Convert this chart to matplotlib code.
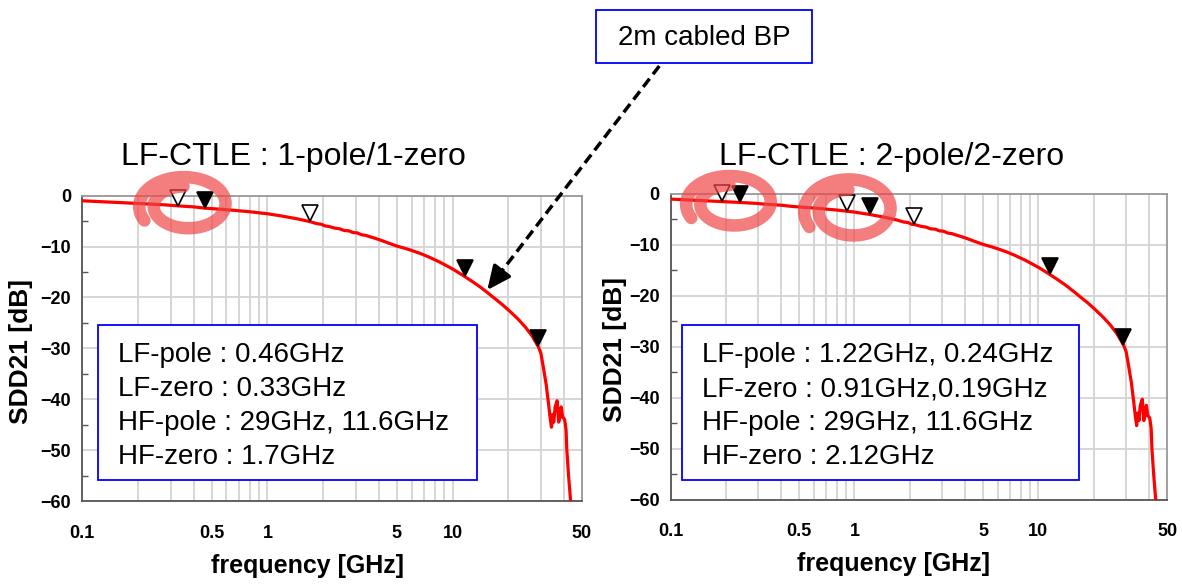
import numpy as np
import matplotlib
matplotlib.use("Agg")
import matplotlib.pyplot as plt
from matplotlib.patches import Rectangle, FancyArrowPatch, ArrowStyle
from matplotlib.lines import Line2D
from matplotlib.ticker import FixedLocator, NullFormatter, MultipleLocator, LogLocator
import matplotlib.transforms as mtransforms

plt.rcParams['font.family'] = ['Liberation Sans', 'DejaVu Sans']

# --- 2m cabled backplane, SDD21 [dB] vs frequency [GHz]
freq_ghz = [0.1, 0.13, 0.17, 0.22, 0.28, 0.33, 0.4, 0.46, 0.55, 0.65, 0.8, 1.0,
            1.2, 1.45, 1.7, 1.85, 1.95, 2.05, 2.15, 2.3, 2.45, 2.6, 2.75, 2.9,
            3.05, 3.2, 3.4, 3.6, 3.8, 4.06, 4.5, 5.0, 5.6, 6.0, 6.69, 7.5, 8.58,
            10.0, 11.42, 12.7, 14.11, 15.5, 17.02, 18.7, 20.5, 22.5, 24.7, 26.8,
            29.06, 30.0, 31.0, 32.0, 33.0, 33.6, 34.2, 34.7, 35.2, 35.8, 36.7,
            37.4, 38.0, 38.6, 39.3, 40.3, 41.0, 41.4, 42.3, 43.4, 44.5, 46.0]
sdd21_db = [-1.0, -1.2, -1.4, -1.6, -1.8, -2.0, -2.2, -2.45, -2.65, -2.85, -3.15, -3.55,
            -4.0, -4.55, -5.1, -5.5, -5.6, -5.95, -6.05, -6.35, -6.5, -6.85, -6.9, -7.25,
            -7.3, -7.65, -7.8, -8.1, -8.35, -8.7, -9.3, -9.9, -10.4, -10.75, -11.35, -12.1, -13.1,
            -14.4, -15.7, -16.8, -17.95, -19.1, -20.3, -21.5, -22.8, -24.2, -25.8, -27.5,
            -29.7, -31.0, -34.0, -37.0, -41.0, -43.5, -45.5, -43.0, -44.5, -41.5, -40.3,
            -44.5, -43.5, -41.5, -43.5, -44.0, -46.0, -50.0, -55.0, -60.0, -64.0, -70.0]

# pole / zero locations [GHz]
left_poles = [0.46, 11.6, 29]
left_zeros = [0.33, 1.7]
right_poles = [1.22, 0.24, 11.6, 29]
right_zeros = [0.91, 0.19, 2.12]

left_title = "LF-CTLE : 1-pole/1-zero"
right_title = "LF-CTLE : 2-pole/2-zero"
left_box = ["LF-pole : 0.46GHz", "LF-zero : 0.33GHz",
            "HF-pole : 29GHz, 11.6GHz", "HF-zero : 1.7GHz"]
right_box = ["LF-pole : 1.22GHz, 0.24GHz", "LF-zero : 0.91GHz,0.19GHz",
             "HF-pole : 29GHz, 11.6GHz", "HF-zero : 2.12GHz"]

xticks = [0.1, 0.5, 1, 5, 10, 50]
xticklabels = ["0.1", "0.5", "1", "5", "10", "50"]
yticks = [0, -10, -20, -30, -40, -50, -60]

W, H = 1182, 585
fig = plt.figure(figsize=(W / 100, H / 100), dpi=100)


def fx(x):
    return np.asarray(x) / W


def fy(y):
    return 1 - np.asarray(y) / H


MS = 12.0


def setup(ax):
    ax.set_xscale('log')
    ax.set_xlim(0.1, 50)
    ax.set_ylim(-60, 0)
    ax.xaxis.set_major_locator(FixedLocator(xticks))
    ax.set_xticklabels(xticklabels)
    ax.xaxis.set_minor_locator(LogLocator(base=10, subs=np.arange(2, 10)))
    ax.xaxis.set_minor_formatter(NullFormatter())
    ax.set_yticks(yticks)
    ax.yaxis.set_minor_locator(MultipleLocator(5))
    ax.grid(which='both', axis='x', color='#d3d3d3', lw=1.3)
    ax.grid(which='major', axis='y', color='#d3d3d3', lw=1.3)
    ax.set_axisbelow(True)
    ax.tick_params(axis='x', which='both', length=0, pad=17)
    ax.tick_params(axis='y', which='major', length=0, pad=8)
    ax.tick_params(axis='y', which='minor', direction='in', length=4,
                   width=1, color='#555555')
    for lab in ax.get_xticklabels() + ax.get_yticklabels():
        lab.set_fontweight('bold')
        lab.set_fontsize(13)
    for s in ['top', 'right']:
        ax.spines[s].set_color('#999999')
        ax.spines[s].set_linewidth(1.3)
    for s in ['left', 'bottom']:
        ax.spines[s].set_color('#555555')
        ax.spines[s].set_linewidth(1.3)
    ax.set_xlabel('frequency [GHz]', fontsize=18, fontweight='bold')
    ax.set_ylabel('SDD21 [dB]', fontsize=19, fontweight='bold')
    ax.xaxis.set_label_coords(0.45, -0.172)


def draw(ax, poles, zeros):
    ax.plot(freq_ghz, sdd21_db, color='#ff0000', lw=2.3, zorder=3)
    lf = np.log10(freq_ghz)
    tip = mtransforms.offset_copy(ax.transData, fig=fig, y=MS / 2, units='points')
    pv = np.interp(np.log10(poles), lf, sdd21_db)
    zv = np.interp(np.log10(zeros), lf, sdd21_db)
    ax.plot(zeros, zv, 'v', ms=MS, mfc='white', mec='black', mew=1.2,
            transform=tip, zorder=4, clip_on=False)
    ax.plot(poles, pv, 'v', ms=MS, mfc='black', mec='black', mew=1.2,
            transform=tip, zorder=4, clip_on=False)


def text_box(x0, y0, x1, y1, lines, tx, baselines):
    fig.add_artist(Rectangle((fx(x0), fy(y1)), fx(x1) - fx(x0), fy(y0) - fy(y1),
                             transform=fig.transFigure, facecolor='white',
                             edgecolor='#0000ff', lw=1.3, zorder=2))
    for s, b in zip(lines, baselines):
        fig.text(fx(tx), fy(b), s, fontsize=20, va='baseline', ha='left', zorder=3)


def scribble(cx, cy, rx, ry):
    # loose spiral, pen stroke
    t = np.radians(np.linspace(150, 625, 180))
    k = np.linspace(1.0, 0.6, t.size)
    x = cx + rx * k * np.cos(t)
    y = cy + ry * k * np.sin(t)
    fig.add_artist(Line2D(fx(x), fy(y), transform=fig.transFigure,
                          color=(0.94, 0.28, 0.28), alpha=0.7, lw=9,
                          solid_capstyle='round', solid_joinstyle='round', zorder=6))


ax1 = fig.add_axes([82.3 / W, (H - 501) / H, 499.7 / W, 305.3 / H])
ax2 = fig.add_axes([670.5 / W, (H - 499.5) / H, 496.5 / W, 305.5 / H])
setup(ax1)
setup(ax2)
ax1.yaxis.set_label_coords(-0.099, 0.49)
ax2.yaxis.set_label_coords(-0.088, 0.49)
draw(ax1, left_poles, left_zeros)
draw(ax2, right_poles, right_zeros)

fig.text(fx(293), fy(165), left_title, fontsize=23, ha='center', va='baseline')
fig.text(fx(892), fy(165), right_title, fontsize=23, ha='center', va='baseline')

baselines = [362, 396, 430, 464]
text_box(97.7, 325, 476.7, 480, left_box, 118.3, baselines)
text_box(682.4, 325, 1079.3, 480, right_box, 702, baselines)

# channel label and pointer
fig.add_artist(Rectangle((fx(596), fy(63)), fx(812) - fx(596), fy(10) - fy(63),
                         transform=fig.transFigure, facecolor='white',
                         edgecolor='#0000ff', lw=1.3, zorder=2))
fig.text(fx(704), fy(45), "2m cabled BP", fontsize=20, ha='center', va='baseline', zorder=3)

p0 = np.array([659.3, 66.0])
p1 = np.array([487.3, 290.0])
d = (p1 - p0) / np.linalg.norm(p1 - p0)
pm = p1 - d * 12
fig.add_artist(Line2D(fx([p0[0], pm[0]]), fy([p0[1], pm[1]]), transform=fig.transFigure,
                      color='black', lw=2.5, linestyle=(0, (3.0, 1.6)), zorder=5))
fig.add_artist(FancyArrowPatch((fx(p1[0] - d[0] * 20), fy(p1[1] - d[1] * 20)),
                               (fx(p1[0]), fy(p1[1])), transform=fig.transFigure,
                               arrowstyle=ArrowStyle('-|>', head_length=1.2, head_width=0.55),
                               mutation_scale=12, color='black', lw=2.5,
                               shrinkA=0, shrinkB=0, zorder=5))

# hand-drawn highlight loops around the LF markers
scribble(186, 205, 48, 31)
scribble(732, 203, 47, 30)
scribble(851, 210, 48, 34)

fig.savefig('out.png', dpi=100)
